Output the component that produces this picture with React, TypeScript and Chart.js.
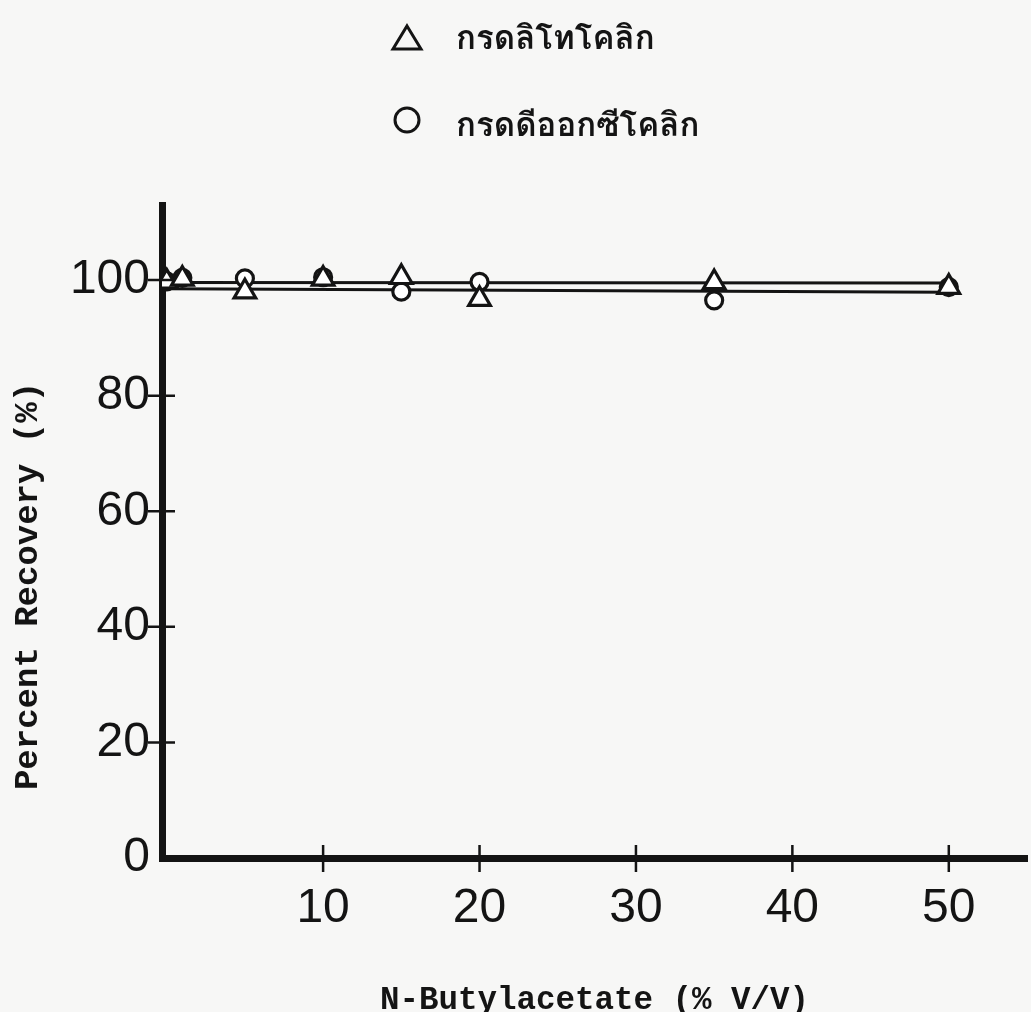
import React, { useEffect, useRef } from 'react';
import { Chart, registerables } from 'chart.js';

Chart.register(...registerables);

// N-butylacetate concentration (% V/V)
const butylacetate = [0, 1, 5, 10, 15, 20, 35, 50];
// Percent recovery of each bile acid
const lithocholic = [99.7, 100.2, 98.0, 100.2, 100.5, 96.7, 99.6, 98.8];
const deoxycholic = [99.8, 100.4, 100.3, 100.5, 98.0, 99.7, 96.5, 98.8];
// Fitted recovery lines
const fitX = [0, 50];
const lithocholicFit = [98.5, 97.9];
const deoxycholicFit = [99.6, 99.5];

const xTicks = [10, 20, 30, 40, 50];
const yTicks = [0, 20, 40, 60, 80, 100];
const seriesLabels = ['กรดลิโทโคลิก', 'กรดดีออกซีโคลิก'];
const xTitle = 'N-Butylacetate (% V/V)';
const yTitle = 'Percent Recovery (%)';

const INK = '#141414';
const PAPER = '#f7f7f6';
const TICK_FONT = '"Liberation Sans", Arial, sans-serif';
const TITLE_FONT = '"Liberation Mono", "DejaVu Sans Mono", monospace';
const THAI_FONT = '"Garuda", "Loma", "Norasi", "Tlwg Typo", "Noto Sans Thai", "Noto Sans", sans-serif';

const pts = (xs: number[], ys: number[]) => xs.map((x, i) => ({ x, y: ys[i] }));

const paperPlugin = {
  id: 'paper',
  beforeDraw(chart: any) {
    const { ctx, width, height } = chart;
    ctx.save();
    ctx.fillStyle = PAPER;
    ctx.fillRect(0, 0, width, height);
    ctx.restore();
  },
};

// tick marks that cross the axis line on both sides
const crossTicksPlugin = {
  id: 'crossTicks',
  afterDraw(chart: any) {
    const { ctx, chartArea, scales } = chart;
    ctx.save();
    ctx.strokeStyle = INK;
    ctx.lineWidth = 2.5;
    ctx.beginPath();
    for (const v of xTicks) {
      const px = scales.x.getPixelForValue(v);
      ctx.moveTo(px, chartArea.bottom - 13);
      ctx.lineTo(px, chartArea.bottom + 14);
    }
    for (const v of yTicks) {
      if (v === 0) continue;
      const py = scales.y.getPixelForValue(v);
      ctx.moveTo(chartArea.left - 14, py);
      ctx.lineTo(chartArea.left + 13, py);
    }
    ctx.stroke();
    ctx.restore();
  },
};

// vertical axis title, set a little below the middle of the axis
const yTitlePlugin = {
  id: 'yTitle',
  afterDraw(chart: any) {
    const { ctx, chartArea } = chart;
    ctx.save();
    ctx.translate(28, chartArea.bottom - 272);
    ctx.rotate(-Math.PI / 2);
    ctx.fillStyle = INK;
    ctx.font = `bold 34px ${TITLE_FONT}`;
    ctx.textAlign = 'center';
    ctx.textBaseline = 'middle';
    ctx.fillText(yTitle, 0, 0);
    ctx.restore();
  },
};

// stacked legend above the plot
const stackedLegendPlugin = {
  id: 'stackedLegend',
  afterDraw(chart: any) {
    const { ctx } = chart;
    const rows = [
      { y: 38, my: 38, style: 'triangle', label: seriesLabels[0] },
      { y: 125, my: 120, style: 'circle', label: seriesLabels[1] },
    ];
    const sx = 407;
    ctx.save();
    ctx.strokeStyle = INK;
    ctx.fillStyle = INK;
    ctx.lineWidth = 3;
    for (const r of rows) {
      ctx.beginPath();
      if (r.style === 'triangle') {
        ctx.moveTo(sx, r.my - 12);
        ctx.lineTo(sx + 14, r.my + 11);
        ctx.lineTo(sx - 14, r.my + 11);
        ctx.closePath();
      } else {
        ctx.arc(sx, r.my, 12, 0, Math.PI * 2);
      }
      ctx.stroke();
      ctx.font = `bold 33px ${THAI_FONT}`;
      ctx.textBaseline = 'middle';
      ctx.textAlign = 'left';
      ctx.fillText(r.label, 456, r.y + 4);
    }
    ctx.restore();
  },
};

export default function App() {
  const canvasRef = useRef<HTMLCanvasElement>(null);

  useEffect(() => {
    const canvas = canvasRef.current;
    if (!canvas) return;
    const marker = {
      borderColor: INK,
      backgroundColor: '#ffffff',
      borderWidth: 3.2,
      showLine: false,
    };
    const fitLine = {
      showLine: true,
      pointRadius: 0,
      borderColor: INK,
      borderWidth: 3,
      fill: false,
    };
    const chart = new Chart(canvas, {
      type: 'scatter',
      data: {
        datasets: [
          {
            label: seriesLabels[0],
            data: pts(butylacetate, lithocholic),
            pointStyle: 'triangle',
            pointRadius: 12.5,
            ...marker,
          },
          {
            label: seriesLabels[1],
            data: pts(butylacetate, deoxycholic),
            pointStyle: 'circle',
            pointRadius: 8.5,
            ...marker,
          },
          { label: 'fit-deoxycholic', data: pts(fitX, deoxycholicFit), ...fitLine },
          { label: 'fit-lithocholic', data: pts(fitX, lithocholicFit), ...fitLine },
        ],
      },
      options: {
        animation: false,
        responsive: false,
        maintainAspectRatio: false,
        layout: { autoPadding: false, padding: { top: 205, right: 4, left: 0, bottom: 0 } },
        plugins: {
          legend: { display: false },
          tooltip: { enabled: false },
        },
        scales: {
          x: {
            type: 'linear',
            min: -0.3,
            max: 55,
            afterBuildTicks: (scale: any) => {
              scale.ticks = xTicks.map((value) => ({ value }));
            },
            afterFit: (scale: any) => {
              scale.height = 154;
              scale.paddingLeft = 0;
              scale.paddingRight = 0;
            },
            grid: { display: false, drawTicks: false },
            border: { display: true, color: INK, width: 7 },
            ticks: {
              color: INK,
              padding: 22,
              maxRotation: 0,
              font: { family: TICK_FONT, size: 48 },
            },
            title: {
              display: true,
              text: xTitle,
              color: INK,
              font: { family: TITLE_FONT, size: 32.5, weight: 'bold', lineHeight: 1 },
              padding: { top: 0, bottom: -5 },
            },
          },
          y: {
            type: 'linear',
            min: 0,
            max: 113,
            afterBuildTicks: (scale: any) => {
              scale.ticks = yTicks.map((value) => ({ value }));
            },
            afterFit: (scale: any) => {
              scale.width = 162;
              scale.paddingTop = 0;
              scale.paddingBottom = 0;
            },
            grid: { display: false, drawTicks: false },
            border: { display: true, color: INK, width: 7 },
            ticks: {
              color: INK,
              padding: 12,
              font: { family: TICK_FONT, size: 48 },
            },
            title: { display: false },
          },
        },
      },
      plugins: [paperPlugin, crossTicksPlugin, yTitlePlugin, stackedLegendPlugin],
    } as any);
    return () => chart.destroy();
  }, []);

  return (
    <div style={{ position: 'absolute', left: 0, top: 0, width: 1031, height: 1012 }}>
      <canvas ref={canvasRef} width={1031} height={1012} style={{ display: 'block' }} />
    </div>
  );
}
